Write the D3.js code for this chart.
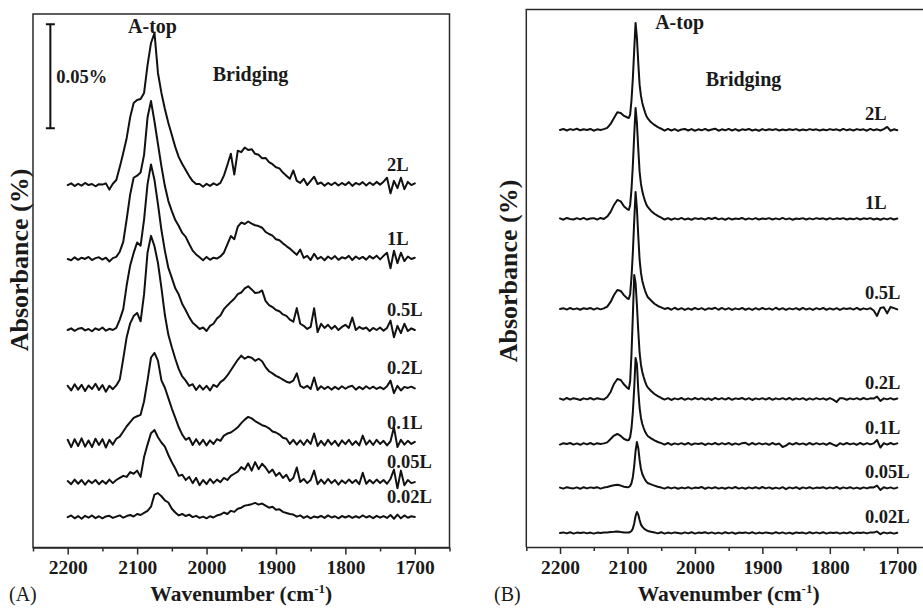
<!DOCTYPE html>
<html><head><meta charset="utf-8">
<script src="https://cdn.jsdelivr.net/npm/d3@7"></script>
<style>
body{margin:0;background:#fff}
text{font-family:"Liberation Serif","Times New Roman",serif;fill:#1a1a1a}
</style>
</head><body>
<svg id="c" width="923" height="608"></svg>
<script>
// ---------- DATA ----------
const doses = ["2L","1L","0.5L","0.2L","0.1L","0.05L","0.02L"];
const majorTicks = [2200,2100,2000,1900,1800,1700];
const minorTicks = [2250,2150,2050,1950,1850,1750,1650];

// Panel A: wavenumber (cm-1), absorbance in units of 1e-4 %
const wnA = [2200,2195,2190,2185,2180,2175,2170,2165,2160,2155,
2150,2145,2140,2135,2130,2125,2120,2115,2110,2105,
2100,2095,2090,2085,2080,2075,2070,2065,2060,2055,
2050,2045,2040,2035,2030,2025,2020,2015,2010,2005,
2000,1995,1990,1985,1980,1975,1970,1965,1960,1955,
1950,1945,1940,1935,1930,1925,1920,1915,1910,1905,
1900,1895,1890,1885,1880,1875,1870,1865,1860,1855,
1850,1845,1840,1835,1830,1825,1820,1815,1810,1805,
1800,1795,1790,1785,1780,1775,1770,1765,1760,1755,
1750,1745,1740,1735,1730,1725,1720,1715,1710,1705,
1700];
const offsetsA = [1740,1385,1044,766,502,314,146];
const scaleBarA = 500; // 0.05 %

const specA_2L = [0,8,-5,6,-3,10,0,5,-6,4,
2,8,-22,6,24,86,154,226,326,394,
408,413,442,576,682,730,538,442,365,298,
240,182,134,101,72,43,19,5,5,-8,
6,-4,8,0,10,45,96,150,50,165,
158,180,168,172,150,145,128,130,110,100,
85,80,60,45,30,70,20,10,30,0,
20,40,5,12,-3,10,0,12,-2,10,
0,14,-4,10,2,14,-2,12,0,15,
2,16,35,-40,20,-15,35,-20,15,0,
8];
const specA_1L = [0,-6,8,-4,6,0,10,-5,4,8,
-3,6,-12,4,10,35,82,192,310,390,
400,415,500,680,758,660,552,445,350,278,
230,187,158,125,106,72,40,22,8,-6,
10,-4,6,2,12,30,70,110,95,155,
175,168,180,170,162,158,150,130,120,112,
95,90,75,62,50,35,20,45,5,15,
-5,25,0,10,-6,12,0,14,-4,8,
2,15,-5,12,0,10,-3,14,2,16,
-2,15,30,-45,40,-20,30,-10,12,0,
6];
const specA_05L = [0,8,-4,6,10,-2,5,-6,8,0,
12,-3,6,0,10,50,100,216,310,370,
420,405,530,700,795,720,605,480,380,298,
250,200,170,125,95,62,35,20,5,12,
-5,20,30,55,70,100,118,135,150,172,
180,200,210,195,178,180,190,140,120,110,
96,90,75,68,50,40,105,30,20,5,
15,105,-10,30,10,25,5,20,0,15,
25,10,60,0,15,5,12,-5,10,0,
12,-3,10,45,-35,20,-15,30,-5,8,
0];
const specA_02L = [10,-12,18,-8,15,-15,12,-5,20,-10,
14,-18,10,-6,12,40,140,245,310,345,
360,320,450,650,730,680,600,480,350,255,
195,140,90,55,35,10,18,-10,12,-8,
10,-12,15,5,28,40,60,85,110,135,
155,140,150,145,130,140,128,100,80,70,
58,50,40,30,25,35,70,10,0,10,
-5,50,-10,8,-5,6,-8,5,-6,8,
-4,6,10,-8,5,-6,8,-4,6,-5,
4,-6,8,35,-25,10,-12,5,0,6,
-2];
const specA_01L = [15,-20,18,-15,22,-18,12,-20,20,-10,
18,-22,15,-8,20,30,55,80,100,120,
128,135,200,300,410,432,395,300,265,215,
165,120,75,40,15,25,-10,18,-8,15,
-12,12,-5,18,10,35,45,50,62,75,
95,112,125,118,105,95,85,80,70,55,
50,40,25,20,-5,15,-8,12,-10,15,
-5,45,-15,10,-12,15,-8,10,-15,12,
-6,15,-10,8,-12,35,-8,12,-10,15,
-5,10,-12,8,75,-20,15,-8,10,-5,
5];
const specA_005L = [5,-10,12,-8,10,-12,8,-5,10,-10,
6,-8,12,-5,10,20,30,25,48,40,
55,25,120,180,235,250,215,190,170,130,
95,65,30,35,10,25,-5,20,-15,10,
-10,15,-5,12,0,20,10,30,40,50,
72,60,90,55,96,62,88,70,45,60,
30,45,20,35,5,20,70,0,15,-5,
10,55,-10,12,-8,15,-5,10,-12,8,
-6,12,-4,10,-10,45,-8,10,-6,12,
-4,10,-8,15,60,-30,55,-15,10,-5,
0];
const specA_002L = [0,8,-6,5,-8,6,-3,8,-5,4,
-6,3,6,-4,2,8,-3,5,10,3,
15,10,20,30,50,108,115,100,80,70,
40,22,8,15,5,12,0,6,-4,2,
-6,4,-2,8,12,22,15,30,25,40,
45,55,58,62,68,60,65,55,45,50,
35,38,25,20,15,12,2,8,-4,5,
-6,3,-2,6,-4,8,-2,4,-6,5,
-2,6,-4,4,-3,8,-2,5,-5,6,
-3,5,-4,10,-8,12,-6,8,-3,4,
0];

// Panel B: wavenumber (cm-1), absorbance (arbitrary units)
const wnB = [2200,2195,2190,2185,2180,2175,2170,2165,2160,2155,2150,2145,2140,2135,2130,2125,2120,2115,2110,2105,2100,
2098,2096,2094,2092,2090,2088,2086,2084,2082,2080,2078,2076,2074,2072,2070,
2065,2060,2055,2050,2045,2040,2035,2030,2025,2020,
2015,2010,2005,2000,1995,1990,1985,1980,1975,1970,
1965,1960,1955,1950,1945,1940,1935,1930,1925,1920,
1915,1910,1905,1900,1895,1890,1885,1880,1875,1870,
1865,1860,1855,1850,1845,1840,1835,1830,1825,1820,
1815,1810,1805,1800,1795,1790,1785,1780,1775,1770,
1765,1760,1755,1750,1745,1740,1735,1730,1725,1720,
1715,1710,1705,1700];
const offsetsB = [2085,1640,1190,740,515,295,70];

const specB_2L = [0,5,-3,4,0,6,-2,3,0,5,-4,3,0,4,10,30,60,88,85,70,62,
60,78,150,260,400,535,460,335,225,170,135,110,88,70,58,
38,25,14,6,-4,5,-3,4,-5,2,
5,-3,4,-4,3,-2,5,-3,2,6,
-4,3,-2,5,-3,4,-4,3,0,5,
-3,2,-4,4,-2,3,0,4,-3,2,
-2,3,0,4,-3,2,-2,4,0,3,
-3,2,-2,4,0,3,-3,5,-2,3,
-3,4,0,3,-4,5,-2,3,-3,4,
15,-4,3,-2];
const specB_1L = [3,-4,5,0,-3,4,-2,5,-3,2,4,-3,5,0,12,35,70,95,88,62,48,
45,70,150,270,420,555,480,350,235,175,138,112,90,72,60,
40,26,15,6,-3,4,-4,3,-2,5,
-3,2,-4,4,0,3,-3,5,0,6,
-2,3,-4,4,-3,2,0,5,-3,3,
-2,4,-3,2,0,4,-3,3,-2,5,
-2,3,-4,2,0,4,-3,3,-2,4,
0,3,-3,4,-2,3,0,4,-3,2,
-2,4,-3,3,0,4,-3,2,-4,3,
-2,4,-3,2];
const specB_05L = [0,4,-3,5,-2,3,-4,4,0,5,-3,4,-2,3,12,35,70,95,90,68,52,
50,75,160,285,440,585,500,365,245,180,140,115,92,74,60,
42,26,15,8,0,5,-4,6,-3,4,
-5,3,-4,5,-2,4,-5,3,0,6,
-4,5,-3,4,-5,3,-2,5,-4,3,
-5,4,-3,5,-2,3,-4,6,-3,4,
-5,3,-2,4,-4,5,-3,3,-5,4,
-2,5,-4,3,-3,4,-5,3,0,4,
-3,5,-4,3,-2,4,-8,-35,5,8,
-22,10,4,-2];
const specB_02L = [2,-4,5,-3,4,0,-5,3,-2,5,-3,4,0,-3,10,35,75,100,95,72,55,
50,90,230,420,620,580,470,340,230,170,135,110,88,70,58,
40,25,14,5,-3,4,-5,3,-2,5,
-4,3,-3,5,-2,4,-4,3,-5,5,
-2,4,-3,5,-4,3,0,5,-3,4,
-5,3,-2,4,-3,5,-4,3,-2,4,
-3,5,-4,3,-2,4,-5,3,-3,4,
-2,3,-4,4,-3,-15,4,3,-4,3,
-2,4,-3,5,-2,3,2,12,-10,3,
-2,4,-3,2];
const specB_01L = [-3,4,0,5,-3,3,-4,4,-2,5,-3,4,0,3,8,25,42,50,40,25,18,
20,35,80,160,280,430,400,270,180,130,100,80,62,50,40,
28,18,10,4,-3,5,-4,3,-2,4,
-3,5,-4,3,0,4,-5,3,-2,5,
-3,4,-2,5,-4,3,-3,4,6,-4,
5,-3,4,-2,3,-4,5,-3,2,-15,
-8,4,-3,5,-2,3,-4,5,-3,4,
-2,3,-4,5,-3,-10,4,-3,5,-2,
3,-4,5,-3,4,-2,3,20,-18,4,
-3,5,-2,3];
const specB_005L = [2,-3,4,0,-2,3,-4,4,-2,3,0,4,-3,2,5,10,14,16,12,6,4,
5,10,25,55,110,185,230,200,140,95,70,55,42,32,25,
18,12,6,2,-3,4,-2,3,-4,2,
-2,4,-3,2,0,5,-4,3,-2,4,
-3,2,-4,3,-2,5,-3,2,-4,3,
-2,4,-3,5,-2,3,-4,2,-3,4,
-6,3,-2,4,-5,3,-2,4,-3,2,
0,4,-3,3,-2,5,-4,3,-2,4,
-3,2,-4,3,-2,4,3,12,-10,4,
-2,3,-3,2];
const specB_002L = [0,3,-2,4,-3,2,0,3,-2,2,-3,2,0,3,2,5,6,8,5,3,2,
2,5,10,22,48,85,105,92,65,42,32,24,18,14,10,
6,3,-2,4,-3,2,-2,3,0,-3,
3,-2,4,-3,2,0,4,-2,3,-3,
2,-3,4,-2,3,-4,2,0,3,-2,
4,-3,2,-2,3,0,-3,4,-2,3,
-3,2,-4,3,0,2,-3,4,-2,3,
-2,4,-3,2,0,3,-3,2,-2,4,
-3,2,0,3,-2,3,2,8,-6,3,
-2,2,-3,1];

const seriesA = [specA_2L,specA_1L,specA_05L,specA_02L,specA_01L,specA_005L,specA_002L];
const seriesB = [specB_2L,specB_1L,specB_05L,specB_02L,specB_01L,specB_005L,specB_002L];

// ---------- DRAWING ----------
const svg = d3.select("#c");
svg.append("rect").attr("width",923).attr("height",608).attr("fill","#fff");

function drawPanel(p){
  const g = svg.append("g");
  const x = d3.scaleLinear().domain([2250,1650]).range(p.xr);
  const y = d3.scaleLinear().domain([0,p.ymax]).range([p.yb,p.yt]);

  // frame
  if(p.box){
    g.append("rect").attr("x",p.xr[0]).attr("y",p.yt)
      .attr("width",p.xr[1]-p.xr[0]).attr("height",p.yb-p.yt)
      .attr("fill","none").attr("stroke","#2a2a2a").attr("stroke-width",1.5);
  } else {
    g.append("path").attr("d",`M${p.xr[0]},${p.yb}V${p.yt}H923`)
      .attr("fill","none").attr("stroke","#2a2a2a").attr("stroke-width",1.5);
  }

  // axes
  const ax = g.append("g").attr("transform",`translate(0,${p.yb})`)
    .call(d3.axisBottom(x).tickValues(majorTicks).tickSize(7).tickSizeOuter(0)
      .tickPadding(6).tickFormat(d3.format("d")));
  ax.select(".domain").attr("stroke","#2a2a2a").attr("stroke-width",1.5);
  ax.selectAll(".tick line").attr("stroke","#2a2a2a").attr("stroke-width",1.5);
  ax.selectAll(".tick text").attr("font-family",'"Liberation Serif",serif')
    .attr("font-weight","bold").attr("font-size",19.5).attr("fill","#222");
  const mn = g.append("g").attr("transform",`translate(0,${p.yb})`)
    .call(d3.axisBottom(x).tickValues(minorTicks).tickSize(4).tickSizeOuter(0).tickFormat(""));
  mn.select(".domain").remove();
  mn.selectAll(".tick line").attr("stroke","#2a2a2a").attr("stroke-width",1.5);

  // spectra
  p.series.forEach((s,k)=>{
    const line = d3.line().x((d,i)=>x(p.wn[i])).y(d=>y(d+p.offsets[k]));
    g.append("path").datum(s).attr("d",line)
      .attr("fill","none").attr("stroke","#111").attr("stroke-width",2)
      .attr("stroke-linejoin","round").attr("stroke-linecap","round");
  });

  // dose labels
  g.selectAll("text.dose").data(doses).join("text").attr("class","dose")
    .attr("x",x(p.labelWn)).attr("y",(d,k)=>y(p.offsets[k])-p.labelLift)
    .attr("font-weight","bold").attr("font-size",p.labelSize).text(d=>d);

  // annotations
  g.append("text").attr("x",x(p.atopWn)).attr("y",p.atopY)
    .attr("font-weight","bold").attr("font-size",20).text("A-top");
  g.append("text").attr("x",x(p.bridgeWn)).attr("y",p.bridgeY)
    .attr("font-weight","bold").attr("font-size",20).text("Bridging");

  // axis titles
  const xt = g.append("text").attr("x",(x(2200)+x(1700))/2).attr("y",601)
    .attr("text-anchor","middle").attr("font-weight","bold").attr("font-size",21.5);
  xt.append("tspan").text("Wavenumber (cm");
  xt.append("tspan").attr("dy",-8).attr("font-size",13).text("-1");
  xt.append("tspan").attr("dy",8).text(")");
  g.append("text").attr("transform",`translate(${p.ytX},${p.ytY}) rotate(-90)`)
    .attr("text-anchor","middle").attr("font-weight","bold").attr("font-size",26)
    .text("Absorbance (%)");
  g.append("text").attr("x",p.tagX).attr("y",601).attr("font-size",20).text(p.tag);

  return {x,y,g};
}

const A = drawPanel({xr:[33,449.5], yb:547.5, yt:14, ymax:2561, box:true,
  wn:wnA, series:seriesA, offsets:offsetsA,
  labelWn:1740, labelLift:14, labelSize:18.5,
  atopWn:2113, atopY:33, bridgeWn:1991, bridgeY:81,
  ytX:28, ytY:260, tag:"(A)", tagX:9});

// scale bar (0.05 %)
const sbBottom = 2012;
const sbX = A.x(2225);
A.g.append("path")
  .attr("d",`M${sbX},${A.y(sbBottom)}V${A.y(sbBottom+scaleBarA)}` +
    `M${sbX-4.5},${A.y(sbBottom)}H${sbX+4.5}M${sbX-4.5},${A.y(sbBottom+scaleBarA)}H${sbX+4.5}`)
  .attr("stroke","#111").attr("stroke-width",2).attr("fill","none");
A.g.append("text").attr("x",sbX+6).attr("y",83)
  .attr("font-weight","bold").attr("font-size",18.5).text("0.05%");

drawPanel({xr:[526.3,931], yb:547, yt:9.5, ymax:2687, box:false,
  wn:wnB, series:seriesB, offsets:offsetsB,
  labelWn:1748, labelLift:10, labelSize:18.5,
  atopWn:2059, atopY:29, bridgeWn:1984, bridgeY:86,
  ytX:517, ytY:271, tag:"(B)", tagX:494});
</script>
</body></html>
